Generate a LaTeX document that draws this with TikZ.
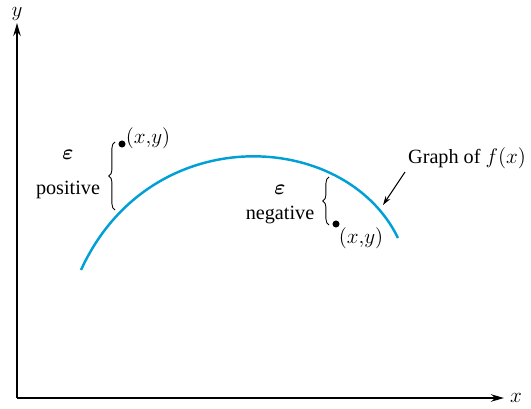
\documentclass[tikz,border=0pt]{standalone}
\usepackage{amsmath,amssymb,bm}
\usepackage{fontspec}
\setmainfont{Liberation Serif}
\usepackage{xcolor}
\usetikzlibrary{positioning, arrows.meta, decorations.pathreplacing}
\definecolor{curveblue}{RGB}{0,160,215}

\begin{document}
\begin{tikzpicture}[
    x=0.02cm, y=0.02cm,
    every node/.style={font=\fontsize{11.5}{13}\selectfont},
    axis/.style={-{Stealth[length=2.6mm, width=1.5mm]}, line width=0.8pt},
    curve/.style={curveblue, line width=1.4pt},
    brace/.style={decorate, decoration={brace, amplitude=3.5pt}, line width=0.5pt},
    dot/.style={circle, fill, inner sep=0pt, minimum size=4pt},
    arrow/.style={-{Stealth[length=1.8mm, width=1.1mm]}, line width=0.6pt},
]
\useasboundingbox (0,0) rectangle (531,409);

% axes
\coordinate (origin) at (17,11);
\node[inner sep=0.5pt] (ylabel) at (17,395) {$y$};
\node (xlabel) at (516,11) {$x$};
\draw[axis] (origin) -- (ylabel.south |- 0,386);
\draw[axis] (origin) -- (xlabel.west |- origin);

% graph of f
\draw[curve] (81,139) .. controls (150,290) and (345,280) .. (398,171);

% epsilon positive
\node[dot] (ptpos) at (122,265) {};
\node (xypos) at (148,271) {$(x{,}y)$};
\node (epspos) at (68,254) {$\bm{\varepsilon}$};
\node (positive) at (68,219) {positive};
\draw[brace] (115,199) -- (115,267);

% epsilon negative
\node[dot] (ptneg) at (336,185) {};
\node (xyneg) at (361,171) {$(x{,}y)$};
\node (epsneg) at (280,219) {$\bm{\varepsilon}$};
\node (negative) at (280,194) {negative};
\draw[brace] (329,184) -- (329,232);

% label
\node (graph) at (467,251) {Graph of $f(x)$};
\coordinate (tail) at (405,237);
\coordinate (oncurve) at (383,204);
\draw[arrow] (tail) -- (oncurve);
\end{tikzpicture}
\end{document}
